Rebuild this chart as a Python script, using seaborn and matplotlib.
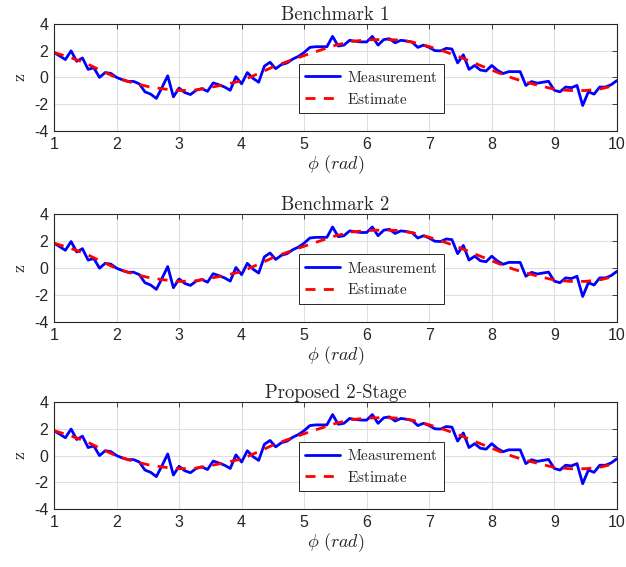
import numpy as np
import pandas as pd

import matplotlib
matplotlib.use("Agg")
import matplotlib.pyplot as plt
import seaborn as sns

####################################################################
# data (same sensor trace in every panel)

phi = np.linspace(1, 10, 100)

measurement = [
    1.86, 1.60, 1.33, 1.98, 1.20, 1.45, 0.60, 0.72, 0.00, 0.36,
    0.30, 0.00, -0.17, -0.30, -0.30, -0.48, -1.08, -1.25, -1.57, -0.75,
    0.12, -1.45, -0.80, -1.13, -1.28, -0.96, -0.84, -1.04, -0.41, -0.55,
    -0.72, -0.96, 0.05, -0.48, 0.36, -0.07, -0.36, 0.84, 1.13, 0.65,
    0.96, 1.08, 1.37, 1.57, 1.86, 2.24, 2.29, 2.29, 2.29, 3.06,
    2.34, 2.41, 2.77, 2.70, 2.65, 2.65, 3.06, 2.41, 2.82, 2.89,
    2.58, 2.77, 2.72, 2.63, 2.24, 2.41, 2.24, 2.00, 1.98, 2.17,
    2.12, 1.08, 1.69, 0.60, 0.89, 0.55, 0.48, 0.89, 0.53, 0.29,
    0.43, 0.43, 0.43, -0.60, -0.31, -0.43, -0.36, -0.29, -0.96, -1.08,
    -0.72, -0.77, -0.60, -2.10, -1.08, -1.25, -0.72, -0.72, -0.55, -0.24,
]

phi_est = np.arange(1, 10.01, 0.25)

est_bench1 = [
    1.86, 1.50, 1.08, 0.52, -0.03, -0.40, -0.68, -0.86, -0.98, -0.95,
    -0.75, -0.52, -0.25, 0.25, 0.78, 1.22, 1.63, 2.02, 2.40, 2.68,
    2.80, 2.83, 2.80, 2.62, 2.30, 1.93, 1.50, 1.02, 0.55, 0.08,
    -0.30, -0.60, -0.88, -0.98, -0.98, -0.85, -0.56,
]
est_bench2 = [
    1.86, 1.50, 1.08, 0.52, -0.03, -0.40, -0.68, -0.86, -0.98, -0.95,
    -0.75, -0.52, -0.25, 0.25, 0.78, 1.22, 1.63, 2.02, 2.40, 2.68,
    2.80, 2.83, 2.80, 2.62, 2.30, 1.93, 1.50, 1.02, 0.55, 0.08,
    -0.30, -0.60, -0.88, -0.98, -0.98, -0.85, -0.56,
]
est_proposed = [
    1.86, 1.50, 1.08, 0.52, -0.03, -0.40, -0.68, -0.86, -0.98, -0.95,
    -0.75, -0.52, -0.25, 0.25, 0.78, 1.22, 1.63, 2.02, 2.40, 2.68,
    2.80, 2.83, 2.80, 2.62, 2.30, 1.93, 1.50, 1.02, 0.55, 0.08,
    -0.30, -0.60, -0.88, -0.98, -0.98, -0.85, -0.56,
]

titles = ["Benchmark 1", "Benchmark 2", "Proposed 2-Stage"]
estimates = [est_bench1, est_bench2, est_proposed]

x_ticks = list(range(1, 11))
y_ticks = [-4, -2, 0, 2, 4]

####################################################################

sns.set_style("whitegrid")
plt.rcParams["font.family"] = ["Liberation Sans", "DejaVu Sans"]
plt.rcParams["mathtext.fontset"] = "cm"
plt.rcParams["axes.unicode_minus"] = False
plt.rcParams["lines.dashed_pattern"] = [3.6, 3.0]

fig = plt.figure(figsize=(6.26, 5.67), dpi=100)

# axes boxes in figure fractions (left, bottom, width, height)
boxes = [
    [0.0863, 0.769, 0.899, 0.189],
    [0.0863, 0.432, 0.899, 0.190],
    [0.0863, 0.102, 0.899, 0.189],
]

df_meas = pd.DataFrame({"phi": phi, "z": measurement})

for box, title, est in zip(boxes, titles, estimates):
    ax = fig.add_axes(box)
    df_est = pd.DataFrame({"phi": phi_est, "z": est})

    sns.lineplot(data=df_meas, x="phi", y="z", ax=ax, color="#0000ff",
                 linewidth=2.0, label=r"$\mathrm{Measurement}$")
    sns.lineplot(data=df_est, x="phi", y="z", ax=ax, color="#ff0000",
                 linewidth=2.0, linestyle="--", label=r"$\mathrm{Estimate}$")

    ax.set_xlim(1, 10)
    ax.set_ylim(-4, 4)
    ax.set_xticks(x_ticks)
    ax.set_yticks(y_ticks)
    ax.set_facecolor("white")
    ax.grid(True, color="#dfdfdf", linewidth=0.8)
    for s in ax.spines.values():
        s.set_color("#262626")
        s.set_linewidth(0.8)
    ax.tick_params(direction="in", top=True, right=True, length=3.5,
                   width=0.6, colors="#262626", labelsize=11.5, pad=4)

    ax.set_title(title.replace("-", "\u2010"), family=["cmr10", "DejaVu Serif"],
                 fontsize=13.5, pad=3)
    ax.set_xlabel(r"$\phi\ (rad)$", fontsize=13, labelpad=1)
    ax.set_ylabel(r"$\mathrm{z}$", fontsize=13, labelpad=4)

    leg = ax.legend(loc="center", bbox_to_anchor=(0.564, 0.40), fontsize=11,
                    fancybox=False, framealpha=1, edgecolor="#262626",
                    handlelength=2.3, handletextpad=0.5, borderpad=0.4,
                    labelspacing=0.45)
    leg.get_frame().set_linewidth(0.7)

fig.savefig("out.png", dpi=100)
